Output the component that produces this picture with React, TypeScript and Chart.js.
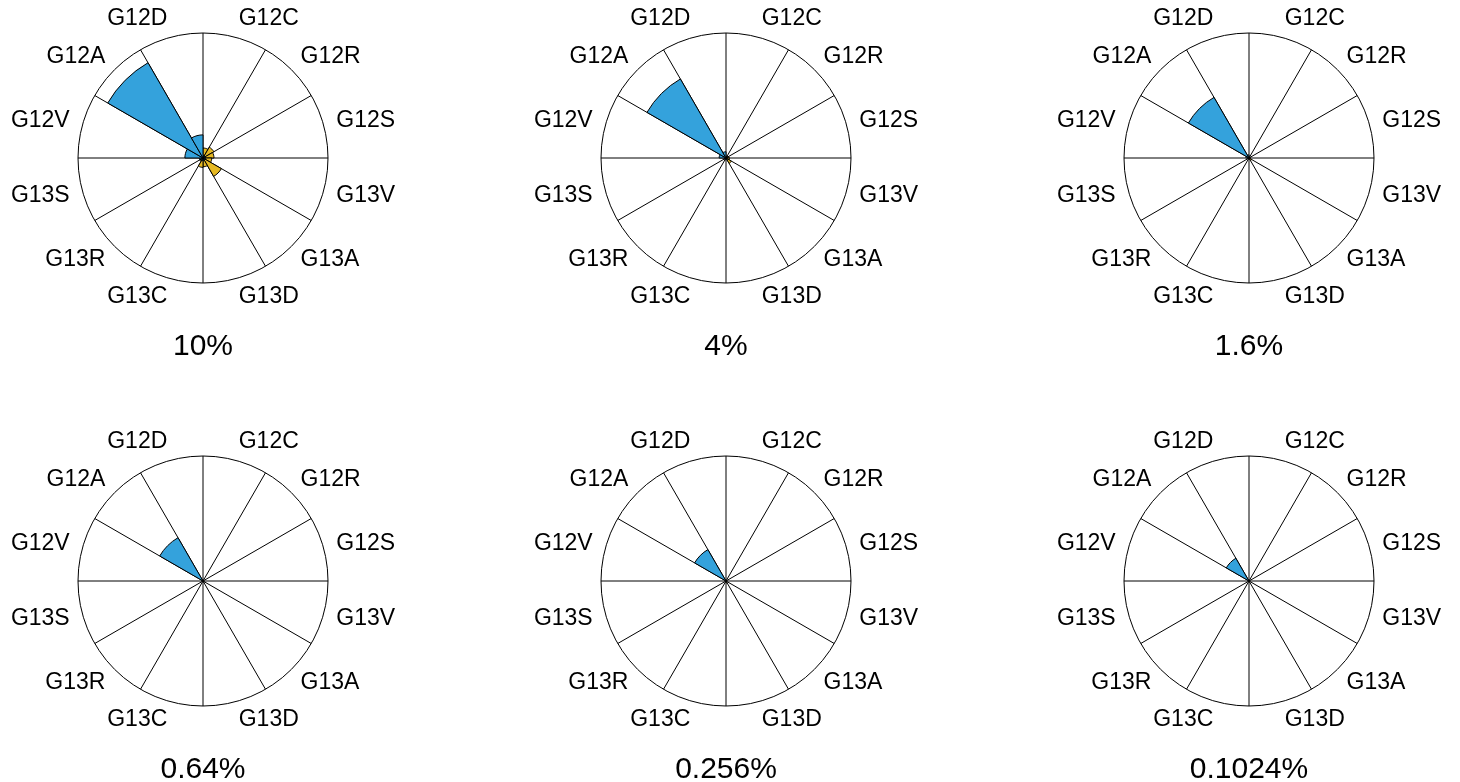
import React, { useEffect, useRef } from 'react';
import { Chart, registerables } from 'chart.js';

Chart.register(...registerables);

const FONT = "'Liberation Sans', Arial, Helvetica, sans-serif";
const BLUE = '#34a2dc';
const YELLOW = '#e6b923';

const sectorLabels = ['G12C', 'G12R', 'G12S', 'G13V', 'G13A', 'G13D', 'G13C', 'G13R', 'G13S', 'G12V', 'G12A', 'G12D'];
const panelTitles = ['10%', '4%', '1.6%', '0.64%', '0.256%', '0.1024%'];

// sector radii (fraction of the outer circle), order follows sectorLabels
const blue10 = [0.02, 0.02, 0.02, 0.02, 0.02, 0.02, 0.02, 0.02, 0.03, 0.145, 0.88, 0.185];
const yellow10 = [0.08, 0.1, 0.088, 0.07, 0.17, 0.07, 0.075, 0.03, 0.015, 0.015, 0.015, 0.015];
const blue4 = [0.012, 0.012, 0.012, 0.012, 0.012, 0.012, 0.012, 0.012, 0.015, 0.055, 0.73, 0.05];
const yellow4 = [0.015, 0.015, 0.025, 0.028, 0.05, 0.015, 0.015, 0.01, 0.008, 0.008, 0.008, 0.008];
const blue16 = [0.008, 0.008, 0.008, 0.008, 0.008, 0.008, 0.008, 0.008, 0.01, 0.025, 0.56, 0.025];
const yellow16 = [0.008, 0.008, 0.01, 0.012, 0.025, 0.01, 0.008, 0.006, 0.005, 0.005, 0.005, 0.005];
const blue064 = [0.006, 0.006, 0.006, 0.006, 0.006, 0.006, 0.006, 0.006, 0.006, 0.012, 0.40, 0.012];
const yellow064 = [0.005, 0.005, 0.006, 0.006, 0.012, 0.008, 0.006, 0.004, 0.004, 0.004, 0.004, 0.004];
const blue0256 = [0.005, 0.005, 0.005, 0.005, 0.005, 0.005, 0.005, 0.005, 0.005, 0.008, 0.29, 0.008];
const yellow0256 = [0.004, 0.004, 0.004, 0.004, 0.008, 0.016, 0.006, 0.004, 0.003, 0.003, 0.003, 0.003];
const blue01024 = [0.004, 0.004, 0.004, 0.004, 0.004, 0.004, 0.004, 0.004, 0.004, 0.006, 0.21, 0.006];
const yellow01024 = [0.003, 0.003, 0.003, 0.003, 0.006, 0.01, 0.004, 0.003, 0.002, 0.002, 0.002, 0.002];

const blueSeries = [blue10, blue4, blue16, blue064, blue0256, blue01024];
const yellowSeries = [yellow10, yellow4, yellow16, yellow064, yellow0256, yellow01024];

const labelPlugin = {
  id: 'sectorLabels',
  afterDraw(chart: any) {
    const scale = chart.scales.r;
    const ctx = chart.ctx;
    const labels: string[] = chart.data.labels;
    const n = labels.length;
    const half = Math.PI / n;
    const dist = scale.drawingArea + 13;
    ctx.save();
    ctx.font = `23px ${FONT}`;
    ctx.fillStyle = '#000';
    ctx.textBaseline = 'middle';
    labels.forEach((lab, i) => {
      const p = scale.getPointPosition(i, dist, half);
      const dx = p.x - scale.xCenter;
      const dy = p.y - scale.yCenter;
      ctx.textAlign = Math.abs(dx) < 1 ? 'center' : dx > 0 ? 'left' : 'right';
      ctx.fillText(lab, p.x, p.y + (dy / dist) * 6);
    });
    ctx.restore();
  },
};

function Panel({ idx, left, top }: { idx: number; left: number; top: number }) {
  const ref = useRef<HTMLCanvasElement>(null);
  useEffect(() => {
    if (!ref.current) return;
    const chart = new Chart(ref.current, {
      type: 'polarArea',
      data: {
        labels: sectorLabels,
        datasets: [
          { data: blueSeries[idx], backgroundColor: BLUE, borderColor: '#000', borderWidth: 1 },
          { data: yellowSeries[idx], backgroundColor: YELLOW, borderColor: '#000', borderWidth: 1 },
        ],
      },
      options: {
        responsive: false,
        animation: false,
        devicePixelRatio: 1,
        layout: { padding: { top: 35, bottom: 3, left: 75, right: 75 } },
        plugins: {
          legend: { display: false },
          tooltip: { enabled: false },
          title: {
            display: true,
            text: panelTitles[idx],
            position: 'bottom',
            color: '#000',
            font: { family: FONT, size: 30, weight: 'normal', lineHeight: 1.2 },
            padding: { top: 46, bottom: 0 },
          },
        },
        scales: {
          r: {
            min: 0,
            max: 1,
            startAngle: 0,
            ticks: { display: false, stepSize: 1 },
            grid: { display: true, circular: true, color: '#000', lineWidth: 1 },
            angleLines: { display: true, color: '#000', lineWidth: 1 },
            pointLabels: { display: false },
          },
        },
      } as any,
      plugins: [labelPlugin],
    });
    return () => chart.destroy();
  }, [idx]);
  return (
    <canvas
      ref={ref}
      width={400}
      height={370}
      style={{ position: 'absolute', left, top, display: 'block' }}
    />
  );
}

const colCenters = [203, 726, 1249];
const rowCenters = [158, 581];

export default function App() {
  return (
    <div
      style={{
        position: 'fixed',
        left: 0,
        top: 0,
        width: 1460,
        height: 782,
        overflow: 'hidden',
        background: '#fff',
      }}
    >
      {panelTitles.map((_, i) => (
        <Panel
          key={i}
          idx={i}
          left={colCenters[i % 3] - 200}
          top={rowCenters[Math.floor(i / 3)] - 160}
        />
      ))}
    </div>
  );
}
